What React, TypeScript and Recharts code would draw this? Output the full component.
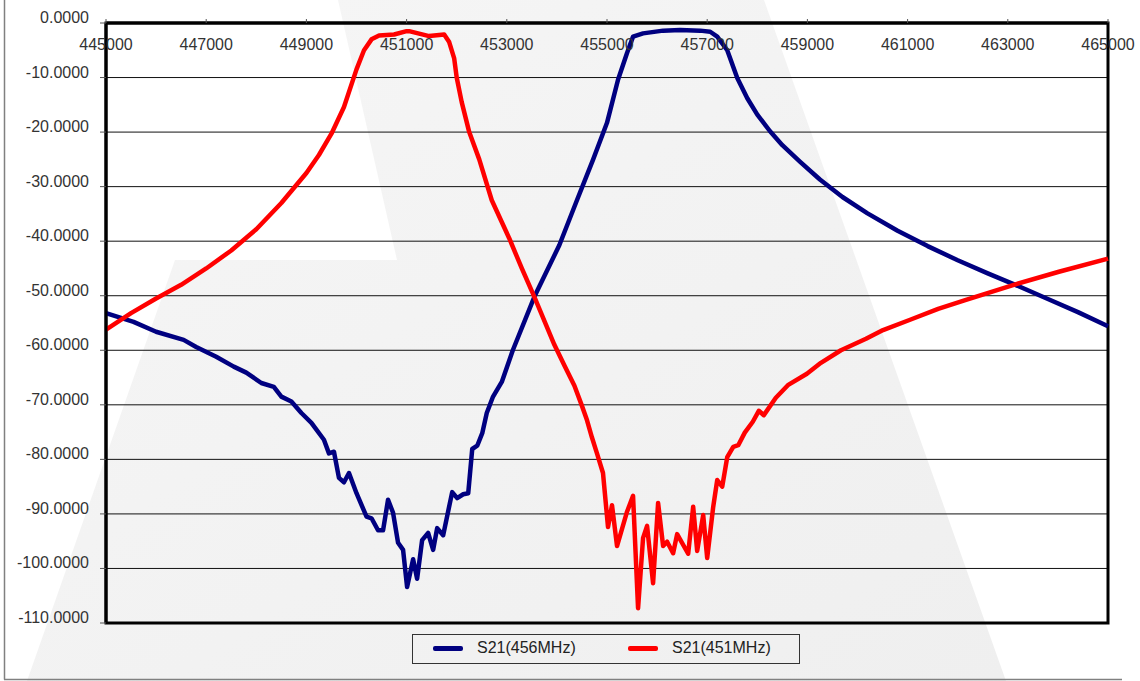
import React from 'react';
import { LineChart, Line, XAxis, YAxis, CartesianGrid, ReferenceArea, Legend } from 'recharts';

// S21(456MHz) filter response, frequency in Hz, level in dB
const FREQ_456 = [
  445000, 445550, 446000, 446550, 446800, 447200, 447550, 447800, 448100, 448350,
  448500, 448700, 448900, 449100, 449350, 449450, 449550, 449650, 449750, 449850,
  450000, 450200, 450300, 450430, 450530, 450630, 450730, 450830, 450930, 451010,
  451130, 451210, 451310, 451430, 451530, 451610, 451730, 451910, 452010, 452130,
  452230, 452310, 452410, 452510, 452600, 452720, 452900, 453120, 453550, 454050,
  454400, 454720, 455000, 455220, 455400, 455520, 455720, 456120, 456460, 456860,
  457060, 457200, 457400, 457600, 457800, 458000, 458250, 458500, 458850, 459250,
  459700, 460200, 460800, 461400, 462000, 462600, 463150, 463800, 464400, 465000,
];
const S21_456 = [
  -53.2, -54.8, -56.6, -58.1, -59.4, -61.2, -63.0, -64.1, -66.0, -66.7,
  -68.5, -69.4, -71.5, -73.3, -76.4, -78.9, -78.6, -83.4, -84.2, -82.5,
  -86.2, -90.5, -90.8, -93.0, -93.0, -87.4, -89.8, -95.3, -96.6, -103.4,
  -98.3, -101.9, -94.8, -93.5, -96.6, -92.6, -93.9, -86.0, -87.1, -86.4,
  -86.2, -78.1, -77.5, -75.2, -71.5, -68.6, -65.8, -60.0, -50.2, -40.7,
  -32.5, -25.1, -18.3, -10.4, -5.5, -2.5, -1.9, -1.4, -1.3, -1.4,
  -1.6, -2.5, -5.0, -10.1, -13.8, -16.8, -19.8, -22.4, -25.4, -28.7,
  -31.9, -34.9, -38.1, -40.9, -43.5, -45.9, -48.0, -50.6, -53.0, -55.6,
];

// S21(451MHz)
const FREQ_451 = [
  445000, 445500, 446000, 446500, 447000, 447500, 448000, 448500, 449000, 449250,
  449500, 449750, 450000, 450150, 450300, 450450, 450750, 451000, 451050, 451450,
  451750, 451850, 451950, 452000, 452100, 452250, 452450, 452700, 453050, 453300,
  453550, 453950, 454150, 454350, 454500, 454600, 454700, 454800, 454920, 455020,
  455100, 455200, 455400, 455520, 455620, 455720, 455800, 455920, 456020, 456120,
  456200, 456320, 456400, 456620, 456720, 456800, 456920, 457000, 457120, 457200,
  457300, 457400, 457520, 457620, 457750, 457910, 458030, 458130, 458370, 458610,
  458990, 459270, 459670, 460170, 460510, 461050, 461610, 462150, 463120, 464020,
  465000,
];
const S21_451 = [
  -56.2, -53.2, -50.5, -48.0, -45.0, -41.7, -37.8, -33.0, -27.5, -24.2,
  -20.3, -15.4, -8.5, -5.0, -3.0, -2.3, -2.1, -1.5, -1.5, -2.4,
  -2.1, -3.5, -6.5, -10.0, -14.5, -20.0, -25.0, -32.5, -39.5, -45.0,
  -50.2, -59.0, -62.8, -66.5, -70.2, -72.8, -76.0, -78.9, -82.5, -92.4,
  -88.4, -95.9, -89.6, -86.7, -107.3, -94.4, -92.2, -102.7, -88.0, -95.9,
  -95.1, -97.2, -93.7, -97.3, -88.7, -96.8, -90.2, -98.1, -88.7, -83.8,
  -85.0, -79.6, -77.7, -77.4, -75.1, -73.1, -71.1, -71.9, -68.7, -66.4,
  -64.3, -62.3, -60.0, -57.9, -56.3, -54.4, -52.4, -50.8, -48.0, -45.6,
  -43.2,
];

const X_TICKS = [445000, 447000, 449000, 451000, 453000, 455000, 457000, 459000, 461000, 463000, 465000];
const Y_TICKS = [0, -10, -20, -30, -40, -50, -60, -70, -80, -90, -100, -110];

const SERIES = [
  { name: 'S21(456MHz)', color: '#000080', data: FREQ_456.map((f, i) => ({ f, v: S21_456[i] })) },
  { name: 'S21(451MHz)', color: '#ff0000', data: FREQ_451.map((f, i) => ({ f, v: S21_451[i] })) },
];

const FONT = '"Liberation Sans", Arial, sans-serif';
const W = 1140;
const H = 681;

const XTick = (props: any) => (
  <text x={props.x} y={50} textAnchor="middle" fontSize={16} fontFamily={FONT} fill="#333">
    {props.payload.value}
  </text>
);

const YTick = (props: any) => (
  <text x={props.x} y={props.y} textAnchor="end" fontSize={16} fontFamily={FONT} fill="#333">
    {Number(props.payload.value).toFixed(4)}
  </text>
);

const LegendBox = () => (
  <div
    style={{
      width: 386,
      height: 28,
      border: '1.5px solid #333',
      position: 'relative',
      fontFamily: FONT,
      fontSize: 16,
      color: '#222',
    }}
  >
    {SERIES.map((s, i) => (
      <div key={s.name} style={{ position: 'absolute', left: 20 + i * 195, top: 4, display: 'flex', alignItems: 'center' }}>
        <span style={{ display: 'inline-block', width: 30, height: 5, borderRadius: 2, background: s.color, marginRight: 14 }} />
        <span>{s.name}</span>
      </div>
    ))}
  </div>
);

export default function App() {
  return (
    <div style={{ position: 'absolute', left: 0, top: 0, width: W, height: H, background: '#fff', overflow: 'hidden' }}>
      <svg width={W} height={H} style={{ position: 'absolute', left: 0, top: 0 }}>
        <defs>
          <linearGradient id="wm" x1="0" y1="0" x2="1" y2="1">
            <stop offset="0%" stopColor="#f6f6f6" />
            <stop offset="100%" stopColor="#efefef" />
          </linearGradient>
        </defs>
        <polygon points="338,0 764,0 1006,681 27,681 175,260 397,260" fill="url(#wm)" />
        <line x1={4.5} y1={0} x2={4.5} y2={679.5} stroke="#808080" strokeWidth={1.5} />
        <line x1={4} y1={679.5} x2={1122} y2={679.5} stroke="#808080" strokeWidth={1.5} />
      </svg>
      <div style={{ position: 'absolute', left: 0, top: 0 }}>
        <LineChart width={W} height={H} margin={{ top: 3, right: 32, bottom: 58, left: 0 }}>
          <CartesianGrid horizontal vertical={false} stroke="#111" strokeWidth={1} />
          <XAxis
            dataKey="f"
            type="number"
            orientation="top"
            domain={[445000, 465000]}
            ticks={X_TICKS}
            height={20}
            tickSize={4}
            tick={<XTick />}
            axisLine={{ stroke: '#000', strokeWidth: 3 }}
            tickLine={{ stroke: '#555' }}
            allowDuplicatedCategory={false}
          />
          <YAxis
            type="number"
            domain={[-110, 0]}
            ticks={Y_TICKS}
            width={106}
            tickSize={6}
            tickMargin={11}
            tick={<YTick />}
            axisLine={{ stroke: '#000', strokeWidth: 3 }}
            tickLine={{ stroke: '#555' }}
          />
          <ReferenceArea x1={445000} x2={465000} y1={-110} y2={0} fill="none" stroke="#000" strokeWidth={3} />
          {SERIES.map((s) => (
            <Line
              key={s.name}
              data={s.data}
              dataKey="v"
              name={s.name}
              type="linear"
              stroke={s.color}
              strokeWidth={4.5}
              strokeLinejoin="round"
              dot={false}
              isAnimationActive={false}
            />
          ))}
          <Legend
            layout="horizontal"
            verticalAlign="middle"
            align="center"
            content={<LegendBox />}
            wrapperStyle={{ left: 412, top: 634, width: 389, height: 31 }}
          />
        </LineChart>
      </div>
    </div>
  );
}
